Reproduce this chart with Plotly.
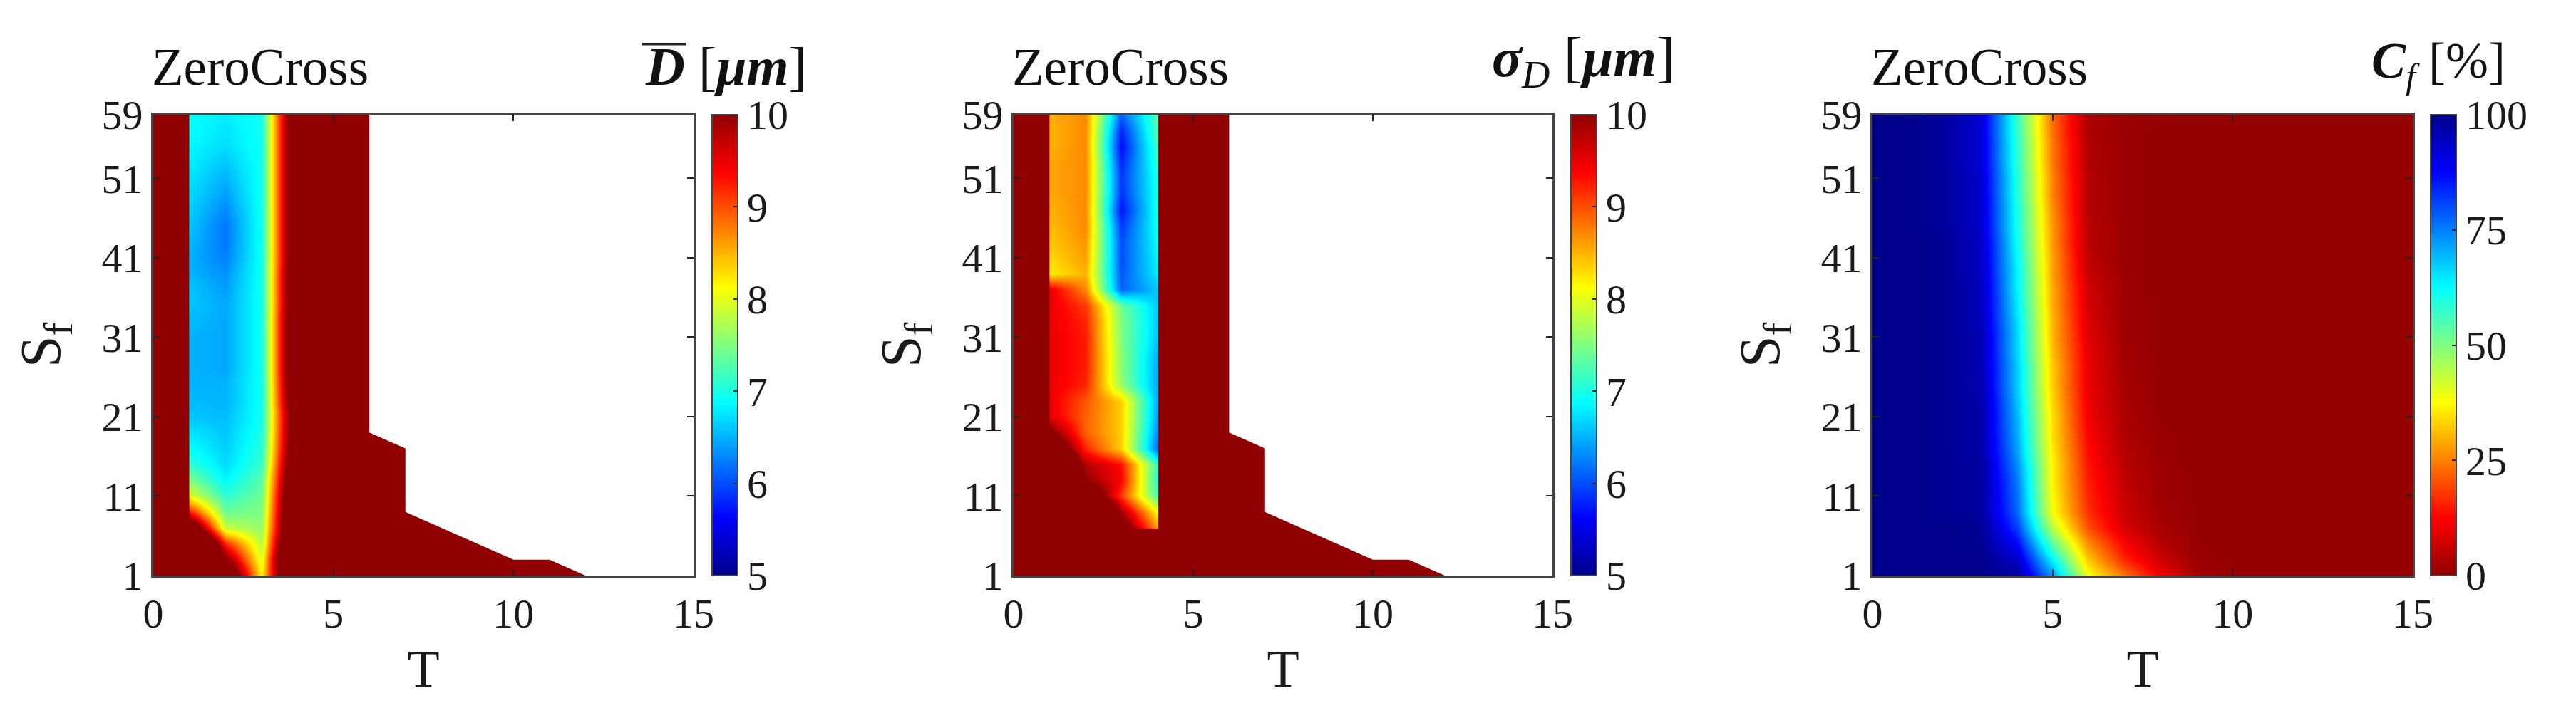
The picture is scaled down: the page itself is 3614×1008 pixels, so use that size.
import plotly.graph_objects as go

W, H = 3614, 1008
TOP, BOTTOM = 161, 808
SERIF = "Liberation Serif"
INK = "#1a1a1a"
SAT = 20.0

T_VALUES = list(range(16))
SF_VALUES = list(range(59, 0, -2))  # 59, 57 ... 1

# Mean diameter, columns T = 1, 2, 3, 4, rows Sf = 59 ... 1
D_ROWS = [
    [6.90, 6.80, 6.95, 11.2], [6.90, 6.75, 6.95, 11.2], [6.85, 6.70, 6.95, 11.2], [6.80, 6.60, 6.95, 11.2],
    [6.75, 6.50, 6.95, 11.2], [6.70, 6.40, 6.95, 11.2], [6.65, 6.30, 6.95, 11.2], [6.60, 6.20, 6.95, 11.2],
    [6.55, 6.20, 6.95, 11.2], [6.50, 6.25, 6.95, 11.2], [6.50, 6.35, 6.95, 11.3], [6.60, 6.40, 6.95, 11.3],
    [6.60, 6.45, 6.95, 11.3], [6.55, 6.45, 6.95, 11.4], [6.50, 6.45, 6.95, 11.4], [6.50, 6.45, 6.95, 11.4],
    [6.50, 6.45, 6.95, 11.4], [6.50, 6.50, 6.95, 11.3], [6.55, 6.50, 6.95, 11.2], [6.60, 6.55, 6.95, 11.0],
    [6.75, 6.60, 7.00, 11.0], [6.90, 6.65, 7.05, 11.1], [7.10, 6.70, 7.15, 11.3], [7.50, 6.85, 7.30, 11.5],
    [8.00, 7.10, 7.40, 11.7], [9.30, 7.40, 7.50, 11.8], [11.0, 7.85, 7.60, 11.9], [13.0, 9.20, 7.75, 12.3],
    [14.0, 10.2, 7.95, 12.8], [15.0, 11.2, 8.15, 12.2],
]

# Standard deviation, columns T = 1, 2, 3, 4, rows Sf = 59 ... 1
SIGMA_ROWS = [
    [8.50, 8.70, 6.10, 7.30], [8.50, 8.70, 5.80, 7.30], [8.50, 8.70, 5.65, 7.20], [8.55, 8.70, 5.80, 7.10],
    [8.55, 8.70, 5.90, 7.00], [8.55, 8.70, 5.85, 7.00], [8.50, 8.70, 5.70, 7.00], [8.45, 8.70, 5.90, 6.95],
    [8.40, 8.65, 6.00, 6.90], [8.30, 8.60, 6.00, 6.85], [8.20, 8.50, 6.05, 6.80], [9.50, 8.70, 6.10, 6.60],
    [9.50, 9.10, 7.40, 6.60], [9.50, 9.20, 7.50, 6.60], [9.50, 9.25, 7.50, 6.60], [9.50, 9.25, 7.55, 6.50],
    [9.50, 9.25, 7.55, 6.45], [9.50, 9.20, 7.60, 6.45], [9.50, 8.95, 8.35, 6.45], [9.55, 8.90, 8.35, 6.40],
    [10.2, 8.90, 8.35, 6.30], [11.0, 9.20, 8.35, 6.15], [12.0, 9.80, 9.30, 7.10], [13.0, 10.0, 9.40, 7.00],
    [15.0, 11.0, 9.10, 7.20], [17.0, 13.0, 9.90, 8.10], [20.0, 15.0, 10.5, 8.60], [20.0, 20.0, 20.0, 20.0],
    [20.0, 20.0, 20.0, 20.0], [20.0, 20.0, 20.0, 20.0],
]

# Fraction, columns T = 0 ... 9, rows Sf = 59 ... 1
CF_ROWS = [
    [100, 100, 98, 92, 58, 23, 3.0, 1.0, 0.5, 0.5], [100, 100, 98, 92, 58, 23, 3.0, 1.0, 0.5, 0.5],
    [100, 100, 98, 92, 59, 24, 3.5, 1.0, 0.5, 0.5], [100, 100, 98, 92, 59, 24, 3.5, 1.0, 0.5, 0.5],
    [100, 100, 98, 93, 60, 25, 4.0, 1.0, 0.5, 0.5], [100, 100, 98, 93, 60, 25, 4.0, 1.0, 0.5, 0.5],
    [100, 100, 98, 93, 61, 26, 4.0, 1.0, 0.5, 0.5], [100, 100, 98, 93, 61, 27, 4.5, 1.0, 0.5, 0.5],
    [100, 100, 99, 94, 62, 27, 4.5, 1.0, 0.5, 0.5], [100, 100, 99, 94, 63, 28, 5.0, 1.0, 0.5, 0.5],
    [100, 100, 99, 94, 64, 28, 6.0, 1.2, 0.5, 0.5], [100, 100, 99, 95, 64, 29, 7.0, 1.2, 0.5, 0.5],
    [100, 100, 99, 95, 65, 29, 7.5, 1.3, 0.5, 0.5], [100, 100, 99, 95, 66, 30, 8.0, 1.4, 0.5, 0.5],
    [100, 100, 99, 96, 67, 30, 9.0, 1.5, 0.5, 0.5], [100, 100, 99, 96, 67, 31, 9.5, 1.8, 0.5, 0.5],
    [100, 100, 99, 96, 68, 32, 10., 2.0, 0.5, 0.5], [100, 100, 99, 96, 68, 32, 10., 2.2, 0.5, 0.5],
    [100, 100, 99, 97, 69, 33, 10.5, 2.5, 0.5, 0.5], [100, 100, 99, 97, 70, 34, 11., 3.0, 0.7, 0.5],
    [100, 100, 99, 97, 71, 34, 12., 3.0, 0.8, 0.5], [100, 100, 99, 97, 72, 35, 13., 4.0, 1.0, 0.5],
    [100, 100, 99, 98, 74, 36, 14., 4.5, 1.2, 0.5], [100, 100, 99, 98, 76, 36, 15., 5.0, 1.3, 0.5],
    [100, 100, 99, 98, 77, 37, 16., 6.0, 1.5, 0.5], [100, 100, 99, 98, 78, 38, 17., 6.5, 2.0, 0.5],
    [100, 100, 100, 99, 82, 44, 20., 8.0, 2.5, 0.5], [100, 100, 100, 99.5, 88, 53, 26., 12., 4.0, 0.7],
    [100, 100, 100, 100, 94, 63, 32., 16., 7.0, 1.0], [100, 100, 100, 100, 98, 72, 38., 24., 11., 2.0],
]

# Outline of the part of the plane with no data, and of the saturated blocks
NO_DATA_T = [6, 6, 7, 7, 10, 11, 12, 15, 15, 6]
NO_DATA_SF = [59, 19, 17, 9, 3, 3, 1, 1, 59, 59]
D_SAT_T = [0, 1, 1, 0, 0]
D_SAT_SF = [1, 1, 59, 59, 1]
SIGMA_SAT_T = [0, 1, 1, 0, 0, None, 4.03, 6.1, 6.1, 4.03, 4.03, None, 2.95, 4.03, 4.03, 2.95, 2.95]
SIGMA_SAT_SF = [1, 1, 59, 59, 1, None, 1, 1, 59, 59, 1, None, 6.9, 6.6, 1, 1, 6.9]

X_TICKS = [0, 5, 10, 15]
Y_TICKS = [1, 11, 21, 31, 41, 51, 59]
D_CB_TICKS = [5, 6, 7, 8, 9, 10]
CF_CB_TICKS = [0, 25, 50, 75, 100]

JET = [
    [0.0, "rgb(0,0,140)"], [0.125, "rgb(0,0,255)"], [0.375, "rgb(0,255,255)"],
    [0.625, "rgb(255,255,0)"], [0.875, "rgb(255,0,0)"], [1.0, "rgb(145,0,0)"],
]
JET_R = [[1 - s, c] for s, c in reversed(JET)]

PANELS = [
    dict(left=215, right=973, cb=999, rows=[[SAT] + r + [SAT] * 11 for r in D_ROWS], zmin=5, zmax=10,
         scale=JET, ticks=D_CB_TICKS, mask_t=NO_DATA_T, mask_s=NO_DATA_SF, sat_t=D_SAT_T, sat_s=D_SAT_SF,
         label="<b><i>D</i></b> [<b><i>μm</i></b>]", label_left=903, label_size=76),
    dict(left=1422, right=2178, cb=2204, rows=[[SAT] + r + [SAT] * 11 for r in SIGMA_ROWS], zmin=5, zmax=10,
         scale=JET, ticks=D_CB_TICKS, mask_t=NO_DATA_T, mask_s=NO_DATA_SF, sat_t=SIGMA_SAT_T, sat_s=SIGMA_SAT_SF,
         label="<b><i>σ</i></b><sub><i>D</i></sub> [<b><i>μm</i></b>]", label_left=2091, label_size=78),
    dict(left=2627, right=3385, cb=3410, rows=[r + [0.5] * 6 for r in CF_ROWS], zmin=0, zmax=100,
         scale=JET_R, ticks=CF_CB_TICKS, mask_t=None, mask_s=None, sat_t=None, sat_s=None,
         label="<b><i>C</i></b><sub><i>f</i></sub> [%]", label_left=3325, label_size=72),
]

fig = go.Figure()
layout = dict(
    width=W, height=H, margin=dict(l=0, r=0, t=0, b=0, autoexpand=False), paper_bgcolor="white", plot_bgcolor="white",
    showlegend=False, annotations=[], shapes=[],
)
tick_font = dict(family=SERIF, size=58, color=INK)

for i, p in enumerate(PANELS):
    n = "" if i == 0 else str(i + 1)
    xa, ya = "x" + n, "y" + n
    fig.add_trace(go.Heatmap(
        x=T_VALUES, y=SF_VALUES, z=p["rows"], zmin=p["zmin"], zmax=p["zmax"], colorscale=p["scale"],
        zsmooth="best", xaxis=xa, yaxis=ya, hoverinfo="skip",
        colorbar=dict(
            x=p["cb"] / W, xanchor="left", xpad=0, ypad=0, y=1 - TOP / H, yanchor="top",
            len=(BOTTOM - TOP) / H, lenmode="fraction", thickness=36, thicknessmode="pixels",
            outlinecolor="#444444", outlinewidth=2, tickvals=p["ticks"], ticks="inside", ticklen=7,
            tickcolor="#222222", tickwidth=2, tickfont=tick_font,
            tickprefix="\u2009\u2009\u2009\u2009\u2009",
        ),
    ))
    if p["sat_t"]:
        fig.add_trace(go.Scatter(x=p["sat_t"], y=p["sat_s"], mode="none", fill="toself",
                                 fillcolor="rgb(145,0,0)", xaxis=xa, yaxis=ya, hoverinfo="skip"))
    if p["mask_t"]:
        fig.add_trace(go.Scatter(x=p["mask_t"], y=p["mask_s"], mode="none", fill="toself",
                                 fillcolor="white", xaxis=xa, yaxis=ya, hoverinfo="skip"))
    axis = dict(showgrid=False, zeroline=False, showline=True, linecolor="#444444", linewidth=3, mirror="ticks",
                ticks="inside", ticklen=9, tickwidth=2, tickcolor="#222222", tickfont=tick_font, layer="above traces",
                automargin=False)
    layout["xaxis" + n] = dict(
        axis, domain=[p["left"] / W, p["right"] / W], range=[0, 15], tickvals=X_TICKS, anchor=ya,
        title=dict(text="T", font=dict(family=SERIF, size=74, color=INK), standoff=20),
    )
    layout["yaxis" + n] = dict(
        axis, domain=[1 - BOTTOM / H, 1 - TOP / H], range=[1, 59], tickvals=Y_TICKS, anchor=xa,
        title=dict(text="S<sub>f</sub>", font=dict(family=SERIF, size=80, color=INK), standoff=32),
    )
    layout["annotations"].append(dict(
        text="ZeroCross", xref="paper", yref="paper", x=p["left"] / W, y=1 - 137 / H, xanchor="left",
        yanchor="bottom", showarrow=False, xshift=-4, font=dict(family=SERIF, size=73, color="#111111"),
    ))
    layout["annotations"].append(dict(
        text=p["label"], xref="paper", yref="paper", x=p["label_left"] / W, y=1 - 137 / H, xanchor="left",
        yanchor="bottom", showarrow=False, font=dict(family=SERIF, size=p["label_size"], color="#111111"),
    ))

layout["shapes"].append(dict(type="line", xref="paper", yref="paper", x0=901 / W, x1=963 / W,
                             y0=1 - 62 / H, y1=1 - 62 / H, line=dict(color="#222222", width=3)))
fig.update_layout(**layout)
fig.write_html("out.html", config=dict(displayModeBar=False), post_script="document.body.style.margin='0';")
